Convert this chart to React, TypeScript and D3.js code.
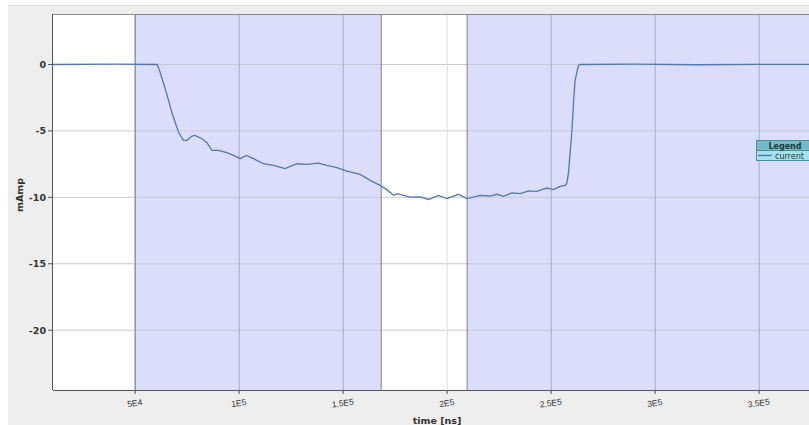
import React from "react";
import * as d3 from "d3";

// time axis values (axis units) and current in mAmp
const times = [10500, 40000, 60600, 62000, 64400, 67600, 70800, 73200, 74900, 77300, 78800, 82100, 84500, 86900, 90000, 94100, 97300, 100500, 103400, 106900, 111700, 116500, 122100, 127700, 132500, 138100, 142200, 147000, 151800, 158200, 163000, 167800, 171000, 174200, 176100, 179000, 182200, 187000, 191000, 195800, 199900, 205400, 209500, 215900, 220700, 223900, 227100, 231100, 235100, 239100, 243100, 247900, 251100, 254300, 256700, 257500, 258300, 260000, 260800, 261500, 263100, 263900, 290000, 320000, 350000, 390000];
const current = [0, 0.02, 0, -0.58, -1.8, -3.58, -5.08, -5.71, -5.71, -5.39, -5.34, -5.59, -5.89, -6.47, -6.47, -6.64, -6.84, -7.09, -6.84, -7.09, -7.47, -7.59, -7.84, -7.47, -7.52, -7.42, -7.59, -7.77, -8.02, -8.27, -8.72, -9.1, -9.42, -9.85, -9.72, -9.85, -9.98, -9.96, -10.16, -9.85, -10.1, -9.77, -10.1, -9.85, -9.9, -9.77, -9.92, -9.67, -9.72, -9.52, -9.55, -9.3, -9.42, -9.17, -9.1, -8.95, -8.2, -4.96, -2.71, -1.2, -0.08, 0, 0.02, -0.02, 0.01, 0];

const xTicks = [50000, 100000, 150000, 200000, 250000, 300000, 350000];
const xTickLabels = ["5E4", "1E5", "1.5E5", "2E5", "2.5E5", "3E5", "3.5E5"];
const yTicks = [0, -5, -10, -15, -20];
const shadedRegions: [number, number][] = [[50000, 168300], [209600, 390000]];
const seriesName = "current";

export default function App() {
  const W = 809, H = 425;
  const left = 53, top = 14, bottom = 390;
  const x = d3.scaleLinear().domain([10500, 390000]).range([left, left + (390000 - 10500) / 50000 * 104]);
  const y = d3.scaleLinear().domain([-24.5, 3.8]).range([bottom, top]);
  const right = x(390000);
  const line = d3.line<number>().x((_, i) => x(times[i])).y((d) => y(d)).curve(d3.curveLinear);

  return (
    <svg width={W} height={H} style={{ position: "absolute", left: 0, top: 0, display: "block" }}>
      <rect x={0} y={0} width={W} height={H} fill="#ffffff" />
      <rect x={8} y={5} width={W - 8} height={H - 5} fill="#eeeeee" />
      <line x1={8} x2={W} y1={5.5} y2={5.5} stroke="#d4d4d4" />
      <defs>
        <clipPath id="plotclip">
          <rect x={left} y={top} width={right - left} height={bottom - top} />
        </clipPath>
      </defs>
      <rect x={left} y={top} width={right - left} height={bottom - top} fill="#ffffff" />
      <g clipPath="url(#plotclip)">
        {shadedRegions.map((r, i) => (
          <rect key={i} x={x(r[0])} y={top} width={x(r[1]) - x(r[0])} height={bottom - top} fill="#dcdcfb" />
        ))}
        {yTicks.map((t) => (
          <line key={t} x1={left} x2={right} y1={y(t)} y2={y(t)} stroke="#c9c9d6" strokeWidth={1} />
        ))}
        {xTicks.map((t) => (
          <line key={t} x1={x(t)} x2={x(t)} y1={top} y2={bottom} stroke={t === 200000 ? "#dedede" : "#a9a9c6"} strokeWidth={1} />
        ))}
        {shadedRegions.map((r, i) => (
          <g key={"b" + i}>
            <line x1={x(r[0])} x2={x(r[0])} y1={top} y2={bottom} stroke="#82829c" strokeWidth={1} />
            <line x1={x(r[1])} x2={x(r[1])} y1={top} y2={bottom} stroke="#82829c" strokeWidth={1} />
          </g>
        ))}
        <path d={line(current) || ""} fill="none" stroke="#5377ad" strokeWidth={1.3} />
      </g>
      <line x1={left} x2={right} y1={top + 0.5} y2={top + 0.5} stroke="#8a8a8a" />
      <line x1={left - 0.5} x2={left - 0.5} y1={top} y2={bottom} stroke="#555555" />
      <line x1={left} x2={right} y1={bottom + 0.5} y2={bottom + 0.5} stroke="#555555" />
      {yTicks.map((t) => (
        <g key={t}>
          <line x1={left - 5} x2={left} y1={y(t)} y2={y(t)} stroke="#555555" />
          <text x={left - 7} y={y(t) + 3.5} textAnchor="end" fontSize={9.5} fontWeight="bold" fontFamily="DejaVu Sans" fill="#333333">
            {t === 0 ? "0" : "-" + Math.abs(t)}
          </text>
        </g>
      ))}
      {xTicks.map((t, i) => (
        <g key={t}>
          <line x1={x(t)} x2={x(t)} y1={bottom} y2={bottom + 4} stroke="#555555" />
          <text transform={`translate(${x(t)},${bottom + 16}) rotate(-8)`} textAnchor="middle" fontSize={8.5} fontFamily="Liberation Sans Narrow, Liberation Sans" fill="#333333">
            {xTickLabels[i]}
          </text>
        </g>
      ))}
      <text x={437} y={424} textAnchor="middle" fontSize={9.5} fontWeight="bold" fontFamily="DejaVu Sans" fill="#333333">time [ns]</text>
      <text transform={`translate(23,195) rotate(-90)`} textAnchor="middle" fontSize={9.5} fontWeight="bold" fontFamily="DejaVu Sans" fill="#333333">mAmp</text>
      <g>
        <rect x={756.5} y={140.5} width={70} height={10} fill="#74bcc6" stroke="#4b8e96" />
        <rect x={756.5} y={150.5} width={70} height={10} fill="#a6e2ea" stroke="#4b8e96" />
        <text x={785} y={148.5} textAnchor="middle" fontSize={8} fontWeight="bold" fontFamily="DejaVu Sans" fill="#1d3a40">Legend</text>
        <line x1={758} x2={772} y1={155.5} y2={155.5} stroke="#5377ad" strokeWidth={1.4} />
        <text x={775} y={158.5} fontSize={8} fontFamily="DejaVu Sans" fill="#1d3a40">{seriesName}</text>
      </g>
    </svg>
  );
}
